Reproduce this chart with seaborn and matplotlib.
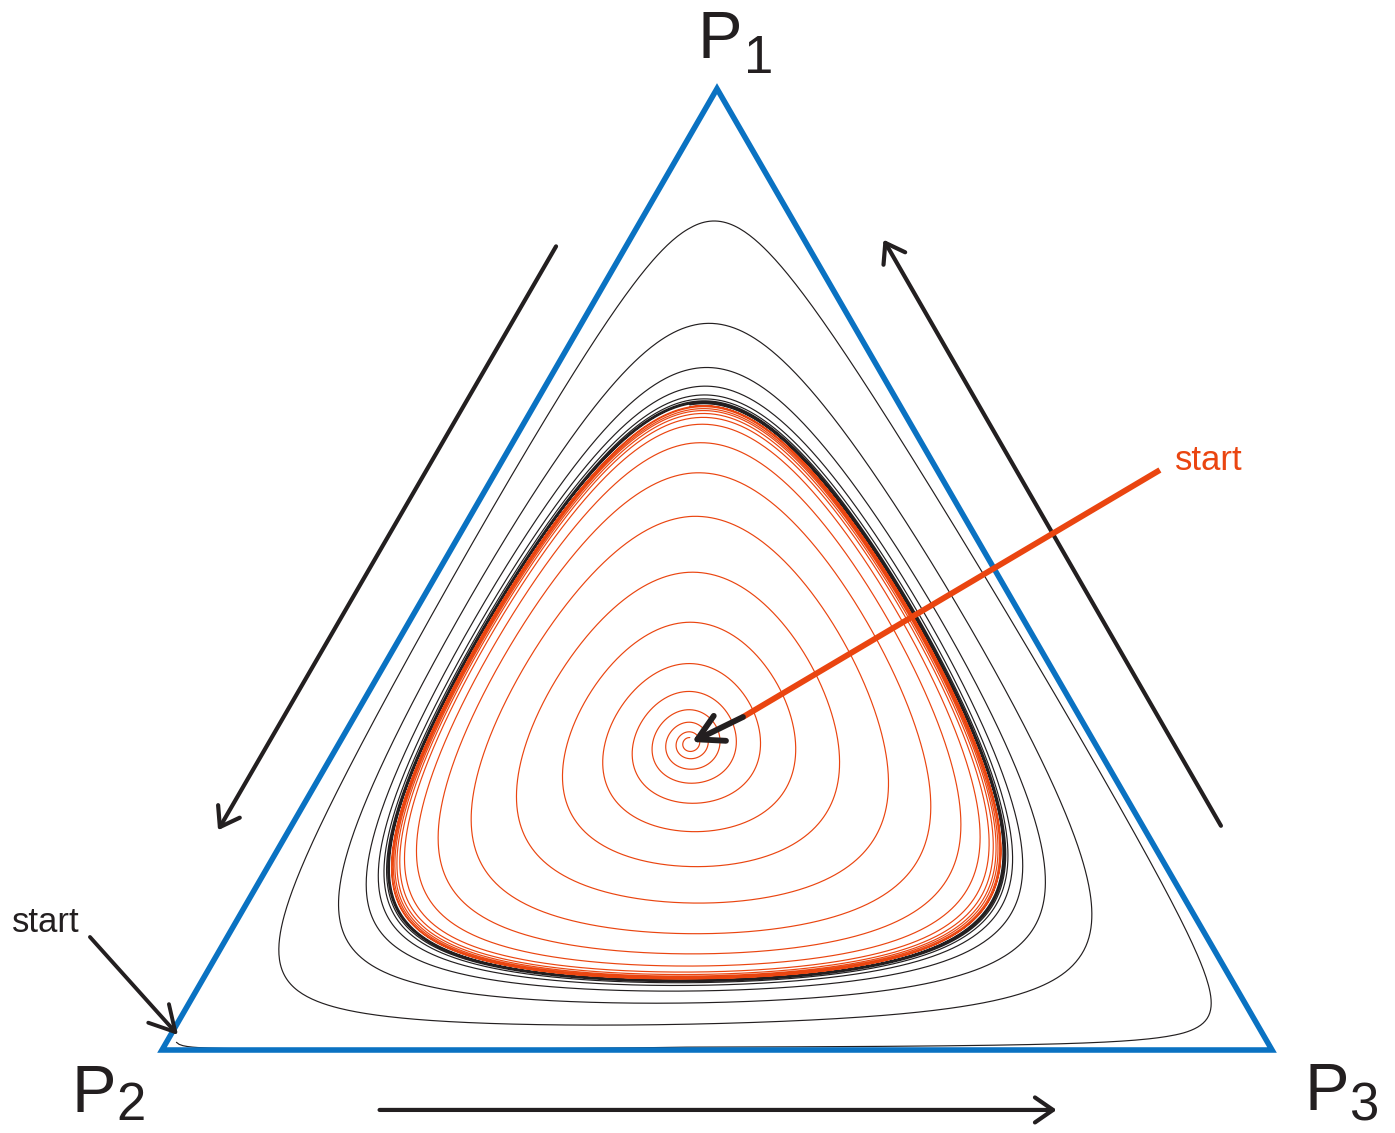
import numpy as np
import pandas as pd
import matplotlib
matplotlib.use("Agg")
import matplotlib.pyplot as plt
from matplotlib.patches import Polygon
import seaborn as sns

# ---- data (shares of P1, P2, P3) ----------------------------------------
# interior rest point of the replicator dynamics
rest_point = [0.319, 0.365, 0.316]
# P1 share where the inner (orange) orbit crosses the vertical above the rest point, turn by turn
inner_p1_top = [0.325, 0.331, 0.341, 0.354, 0.373, 0.402, 0.445, 0.497, 0.555,
                0.600, 0.631, 0.650, 0.657, 0.661, 0.664, 0.666, 0.668, 0.669, 0.669]
# outer (black) orbit: starting point next to P2
outer_start = [0.008, 0.983, 0.009]
# further points of the outer orbit before its crossings: (shares, turn)
outer_waypoints = [([0.003, 0.525, 0.472], 0),   # running along the P2-P3 edge
                   ([0.018, 0.070, 0.912], 0),   # turning next to P3
                   ([0.094, 0.128, 0.778], 1)]   # second turn, lower right
# P1 share where the outer orbit crosses the vertical above the rest point, turn by turn
outer_p1_top = [0.855, 0.753, 0.708, 0.689, 0.680, 0.676, 0.674, 0.673, 0.672, 0.671]
vertex_labels = ["P", "P", "P"]
vertex_subscripts = ["1", "2", "3"]

BLUE = "#0A72C2"
ORANGE = "#EA4510"
DARK = "#231F20"

SQ = np.sqrt(3) / 2


def to_xy(p1, p2, p3):
    return p3 + 0.5 * p1, SQ * p1


def from_xy(x, y):
    p1 = y / SQ
    p3 = x - 0.5 * p1
    return np.array([p1, 1 - p1 - p3, p3])


e = np.array(rest_point, dtype=float)
e /= e.sum()
L_star = np.sum(e * np.log(e))
E = np.array(to_xy(*e))


def lyap(p):
    p = np.asarray(p, float)
    return np.sum(e * np.log(p / p.sum()))


def depth_of(p):
    return L_star - lyap(p)


def angle_of(p):
    x, y = to_xy(*p)
    return np.degrees(np.arctan2(y - E[1], x - E[0])) % 360


def depth_on_vertical(p1):
    return depth_of(from_xy(E[0], SQ * p1))


def orbit(angles_deg, depths, per_turn=1200):
    """Trace a spiral through level sets of sum(e_i ln p_i) around the rest point."""
    order = np.argsort(angles_deg)
    angles_deg = np.asarray(angles_deg, float)[order]
    depths = np.asarray(depths, float)[order]
    n = int((angles_deg[-1] - angles_deg[0]) / 360 * per_turn) + 2
    theta = np.linspace(angles_deg[0], angles_deg[-1], n)
    d = np.exp(np.interp(theta, angles_deg, np.log(depths)))
    t = np.radians(theta)
    ux, uy = np.cos(t), np.sin(t)
    g1 = uy / SQ
    g3 = ux - 0.5 * g1
    g2 = -g1 - g3
    G = np.vstack([g1, g2, g3])
    with np.errstate(divide="ignore", invalid="ignore"):
        rr = np.where(G < 0, -e[:, None] / G, np.inf)
    rmax = rr.min(axis=0)
    lo = np.zeros(n)
    hi = rmax * (1 - 1e-12)
    target = L_star - d
    for _ in range(70):
        mid = 0.5 * (lo + hi)
        val = np.sum(e[:, None] * np.log(e[:, None] + mid * G), axis=0)
        inside = val > target
        lo = np.where(inside, mid, lo)
        hi = np.where(inside, hi, mid)
    r = 0.5 * (lo + hi)
    return pd.DataFrame({"x": E[0] + r * ux, "y": E[1] + r * uy})


# inner orbit: one knot per turn at the top of each loop
inner_angles = [90 + 360 * k for k in range(len(inner_p1_top))]
inner_depths = [depth_on_vertical(v) for v in inner_p1_top]
inner = orbit(inner_angles, inner_depths)

# outer orbit: start at the P2 corner, a few waypoints, then one knot per turn
outer_angles = [angle_of(outer_start)]
outer_depths = [depth_of(outer_start)]
for p, turn in outer_waypoints:
    outer_angles.append(angle_of(p) + 360 * turn)
    outer_depths.append(depth_of(p))
for k, v in enumerate(outer_p1_top):
    outer_angles.append(450 + 360 * k)
    outer_depths.append(depth_on_vertical(v))
outer = orbit(outer_angles, outer_depths)

# ---- figure ---------------------------------------------------------------
sns.set_theme(style="white")
plt.rcParams["font.family"] = ["Liberation Sans", "DejaVu Sans"]

fig = plt.figure(figsize=(13.95, 11.33), dpi=100)
ax = fig.add_axes([0, 0, 1, 1])
ax.set_xlim(-162 / 1110, (1395 - 162) / 1110)
ax.set_ylim(-(1133 - 1050) / 1110, 1050 / 1110)
ax.axis("off")

sns.lineplot(data=outer, x="x", y="y", sort=False, estimator=None,
             color=DARK, lw=0.85, ax=ax)
sns.lineplot(data=inner, x="x", y="y", sort=False, estimator=None,
             color=ORANGE, lw=0.85, ax=ax)

corners = [to_xy(1, 0, 0), to_xy(0, 1, 0), to_xy(0, 0, 1)]
ax.add_patch(Polygon(corners, closed=True, fill=False, edgecolor=BLUE,
                     lw=4.0, joinstyle="miter", zorder=5))


def arrow(tail, head, color=DARK, lw=3.0, hl=0.65, hw=0.45):
    ax.annotate("", xy=head, xytext=tail,
                arrowprops=dict(arrowstyle=f"->,head_length={hl},head_width={hw}",
                                color=color, lw=lw, shrinkA=0, shrinkB=0,
                                mutation_scale=20), zorder=6)


# direction of the cycling along the edges
arrow((0.355, 0.724), (0.0505, 0.198))
arrow((0.954, 0.202), (0.650, 0.730))
arrow((0.196, -0.054), (0.806, -0.054))

# "start" markers
ax.plot([0.899, 0.5234], [0.5225, 0.300], color=ORANGE, lw=4.2,
        solid_capstyle="butt", zorder=6)
arrow((0.5234, 0.300), (0.4775, 0.2775), lw=4.2, hl=0.9, hw=0.5)
ax.text(0.9126, 0.5315, "start", color=ORANGE, fontsize=25,
        ha="left", va="center", zorder=7)

arrow((-0.0649, 0.1018), (0.0144, 0.0135), lw=2.8, hl=0.9, hw=0.5)
ax.text(-0.1351, 0.1153, "start", color=DARK, fontsize=25,
        ha="left", va="center", zorder=7)

# vertex labels
label_pos = [((0.482, 0.8937), (0.5243, 0.880)),
             ((-0.0811, -0.0559), (-0.0414, -0.0631)),
             ((1.0297, -0.0541), (1.0694, -0.0631))]
for name, sub, (pp, sp) in zip(vertex_labels, vertex_subscripts, label_pos):
    ax.text(*pp, name, fontsize=48, color=DARK, ha="left", va="baseline")
    ax.text(*sp, sub, fontsize=38, color=DARK, ha="left", va="baseline")

fig.savefig("out.png", dpi=100, facecolor="white")
